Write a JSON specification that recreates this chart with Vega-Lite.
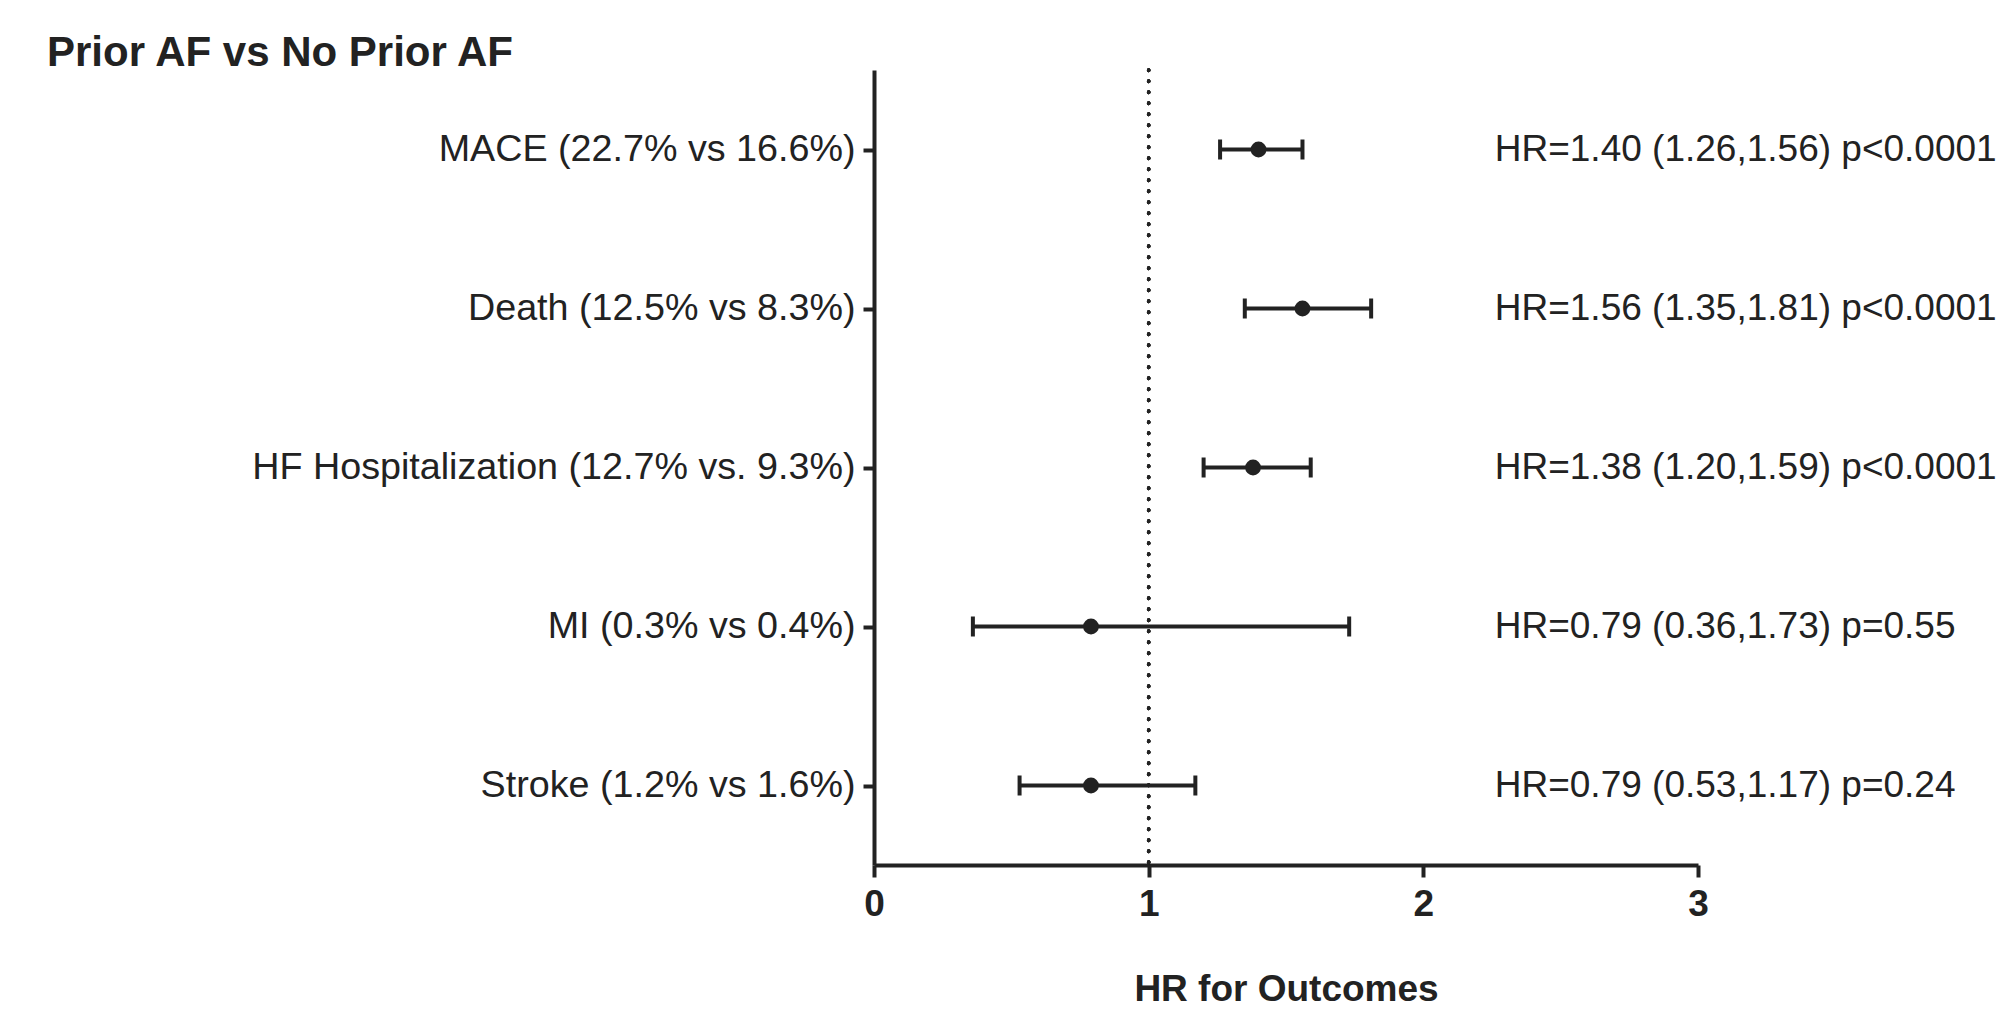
{
  "$schema": "https://vega.github.io/schema/vega-lite/v6.json",
  "autosize": "none",
  "width": 824,
  "height": 795,
  "padding": {"left": 874, "top": 70, "right": 302, "bottom": 156},
  "background": "white",
  "title": {
    "text": "Prior AF vs No Prior AF",
    "anchor": "start",
    "frame": "group",
    "dx": -827,
    "offset": -7,
    "font": "Liberation Sans",
    "fontSize": 42,
    "fontWeight": "bold",
    "color": "#222222"
  },
  "data": {
    "values": [
      {"outcome": "MACE (22.7% vs 16.6%)", "hr": 1.40, "lo": 1.26, "hi": 1.56, "label": "HR=1.40 (1.26,1.56) p<0.0001"},
      {"outcome": "Death (12.5% vs 8.3%)", "hr": 1.56, "lo": 1.35, "hi": 1.81, "label": "HR=1.56 (1.35,1.81) p<0.0001"},
      {"outcome": "HF Hospitalization (12.7% vs. 9.3%)", "hr": 1.38, "lo": 1.20, "hi": 1.59, "label": "HR=1.38 (1.20,1.59) p<0.0001"},
      {"outcome": "MI (0.3% vs 0.4%)", "hr": 0.79, "lo": 0.36, "hi": 1.73, "label": "HR=0.79 (0.36,1.73) p=0.55"},
      {"outcome": "Stroke (1.2% vs 1.6%)", "hr": 0.79, "lo": 0.53, "hi": 1.17, "label": "HR=0.79 (0.53,1.17) p=0.24"}
    ]
  },
  "config": {
    "view": {"stroke": null},
    "font": "Liberation Sans",
    "axis": {
      "domainColor": "#222222",
      "domainWidth": 4,
      "tickColor": "#222222",
      "tickWidth": 4,
      "grid": false,
      "labelColor": "#222222",
      "titleColor": "#222222"
    }
  },
  "encoding": {
    "y": {
      "field": "outcome",
      "type": "nominal",
      "sort": null,
      "scale": {"type": "point", "padding": 0.5},
      "axis": {
        "title": null,
        "labelFontSize": 37.7,
        "labelPadding": 8,
        "tickSize": 11,
        "labelLimit": 1000
      }
    }
  },
  "layer": [
    {
      "mark": {"type": "rule", "color": "#222222", "strokeWidth": 3.5, "strokeDash": [0.5, 10.5], "strokeCap": "round"},
      "encoding": {"x": {"datum": 1, "type": "quantitative"}, "y": null}
    },
    {
      "mark": {"type": "rule", "color": "#222222", "strokeWidth": 4},
      "encoding": {
        "x": {
          "field": "lo",
          "type": "quantitative",
          "scale": {"domain": [0, 3], "nice": false},
          "axis": {
            "title": "HR for Outcomes",
            "values": [0, 1, 2, 3],
            "format": "d",
            "labelFlush": false,
            "labelFontSize": 37,
            "labelFontWeight": "bold",
            "labelPadding": 9,
            "tickSize": 12,
            "titleFontSize": 37,
            "titleFontWeight": "bold",
            "titlePadding": 49
          }
        },
        "x2": {"field": "hi"}
      }
    },
    {
      "mark": {"type": "tick", "color": "#222222", "size": 20, "thickness": 4, "opacity": 1},
      "encoding": {"x": {"field": "lo", "type": "quantitative"}}
    },
    {
      "mark": {"type": "tick", "color": "#222222", "size": 20, "thickness": 4, "opacity": 1},
      "encoding": {"x": {"field": "hi", "type": "quantitative"}}
    },
    {
      "mark": {"type": "point", "filled": true, "shape": "circle", "color": "#222222", "size": 250, "opacity": 1},
      "encoding": {"x": {"field": "hr", "type": "quantitative"}}
    },
    {
      "mark": {"type": "text", "align": "left", "baseline": "middle", "fontSize": 37, "color": "#222222"},
      "encoding": {
        "x": {"datum": 2.26, "type": "quantitative"},
        "text": {"field": "label"}
      }
    }
  ]
}
